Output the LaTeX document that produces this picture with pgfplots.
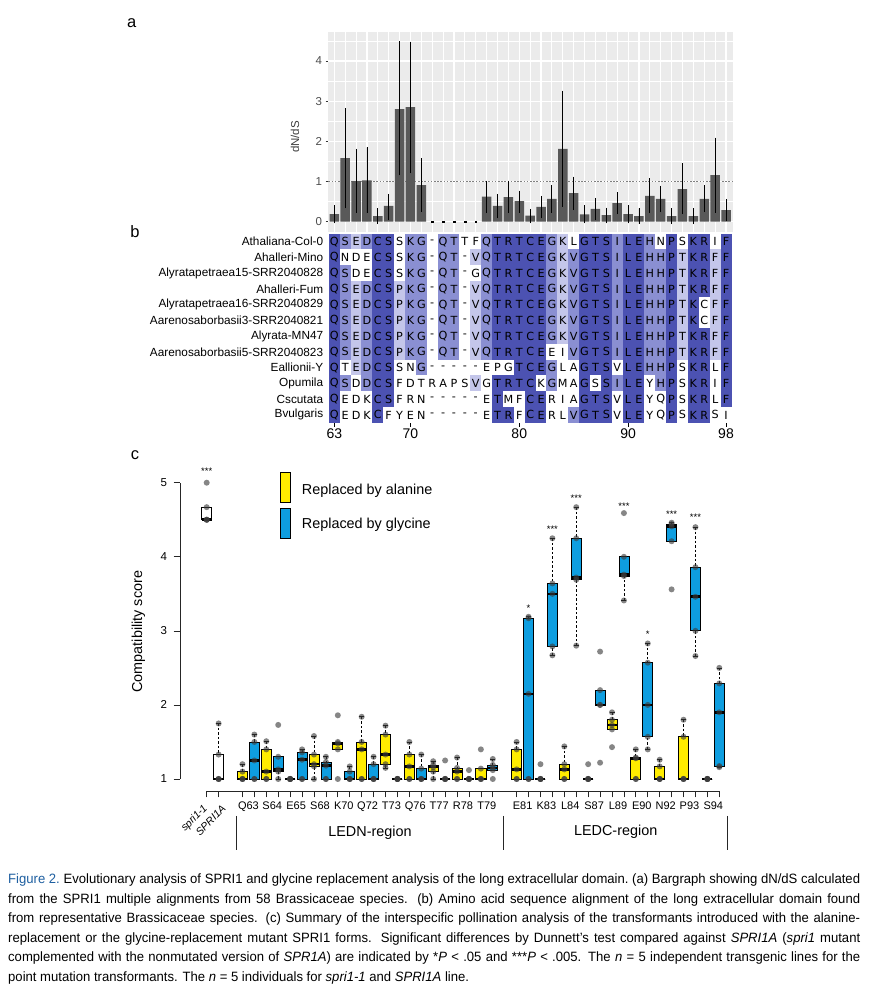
\documentclass[border=0pt]{standalone}
\usepackage{fontspec}
\setmainfont{Liberation Sans}
\newfontfamily\alnfont{DejaVu Sans}
\newfontfamily\capfont[FakeStretch=0.97]{Liberation Sans}
\usepackage{pgfplots}
\pgfplotsset{compat=1.18}
\usepgfplotslibrary{statistics}

\definecolor{ggbg}{HTML}{EBEBEB}
\definecolor{ggbar}{HTML}{595959}
\definecolor{ggtext}{HTML}{4D4D4D}
\definecolor{ggtick}{HTML}{333333}
\definecolor{alnD}{RGB}{76,82,178}
\definecolor{alnM}{RGB}{138,143,210}
\definecolor{alnL}{RGB}{196,198,234}
\definecolor{boxY}{RGB}{255,236,0}
\definecolor{boxB}{RGB}{14,158,224}
\definecolor{ptgray}{RGB}{60,60,60}
\definecolor{capblue}{RGB}{30,95,160}

\pgfdeclareplotmark{alncell}{\pgfpathrectangle{\pgfqpoint{-5.5pt}{-7.95pt}}{\pgfqpoint{11pt}{15.9pt}}\pgfusepathqfill}
\pgfdeclareplotmark{nomark}{}
\pgfdeclareplotmark{dot}{\pgfpathcircle{\pgfpointorigin}{\pgfplotmarksize}\pgfusepathqfill}

\pgfplotsset{
  /pgf/number format/assume math mode=true,
  boxplot/draw/lower whisker/.code={
    \draw[dash pattern=on 2.5pt off 2pt, line width=0.75pt]
      (boxplot cs:\pgfplotsboxplotvalue{lower whisker}) --
      (boxplot cs:\pgfplotsboxplotvalue{lower quartile});
    \draw[solid, line width=0.75pt]
      (boxplot whisker cs:\pgfplotsboxplotvalue{lower whisker},0) --
      (boxplot whisker cs:\pgfplotsboxplotvalue{lower whisker},1);
  },
  boxplot/draw/upper whisker/.code={
    \draw[dash pattern=on 2.5pt off 2pt, line width=0.75pt]
      (boxplot cs:\pgfplotsboxplotvalue{upper whisker}) --
      (boxplot cs:\pgfplotsboxplotvalue{upper quartile});
    \draw[solid, line width=0.75pt]
      (boxplot whisker cs:\pgfplotsboxplotvalue{upper whisker},0) --
      (boxplot whisker cs:\pgfplotsboxplotvalue{upper whisker},1);
  },
}

% one box of panel c: slot, fill, lower whisker, q1, median, q3, upper whisker
\newcommand\bx[7]{%
  \addplot[draw=black, line width=0.75pt, solid,
    boxplot/draw direction=y,
    boxplot/every box/.style={fill=#2},
    boxplot/every median/.style={line width=2.6pt},
    boxplot prepared={draw position=#1, box extend=0.84, whisker extend=0.42,
      lower whisker=#3, lower quartile=#4, median=#5,
      upper quartile=#6, upper whisker=#7}] coordinates {};}

% alignment: row, residues, identity class (d/m/l/w) per column
\ExplSyntaxOn
\tl_new:N \g__aln_cells_tl
\tl_new:N \g__aln_res_tl
\cs_new_protected:Npn \__aln_row:nnn #1#2#3
  {
    \int_step_inline:nn { 37 }
      {
        \tl_gput_right:Nx \g__aln_cells_tl { (##1,#1)[\str_item:nn {#3} {##1}]~ }
        \tl_gput_right:Nx \g__aln_res_tl { (##1,#1)[\str_item:nn {#2} {##1}]~ }
      }
  }
\__aln_row:nnn {1}  {QSEDCSSKG-QTTFQTRTCEGKLGTSILEHNPSKRIF} {dmlmddwmmwmmwwmdddddmlwdddmddmwdwddwd}
\__aln_row:nnn {2}  {QNDECSSKG-QT-VQTRTCEGKVGTSILEHHPTKRFF} {dwwwddwmmwmmwlmdddddmlmdddmddmmdlddld}
\__aln_row:nnn {3}  {QSDECSSKG-QT-GQTRTCEGKVGTSILEHHPTKRFF} {dmwwddwmmwmmwwmdddddmlmdddmddmmdlddld}
\__aln_row:nnn {4}  {QSEDCSPKG-QT-VQTRTCEGKVGTSILEHHPTKRFF} {dmlmddlmmwmmwlmdddddmlmdddmddmmdlddld}
\__aln_row:nnn {5}  {QSEDCSPKG-QT-VQTRTCEGKVGTSILEHHPTKCFF} {dmlmddlmmwmmwlmdddddmlmdddmddmmdldwld}
\__aln_row:nnn {6}  {QSEDCSPKG-QT-VQTRTCEGKVGTSILEHHPTKCFF} {dmlmddlmmwmmwlmdddddmlmdddmddmmdldwld}
\__aln_row:nnn {7}  {QSEDCSPKG-QT-VQTRTCEGKVGTSILEHHPTKRFF} {dmlmddlmmwmmwlmdddddmlmdddmddmmdlddld}
\__aln_row:nnn {8}  {QSEDCSPKG-QT-VQTRTCEEIVGTSILEHHPTKRFF} {dmlmddlmmwmmwlmdddddwwmdddmddmmdlddld}
\__aln_row:nnn {9}  {QTEDCSSNG-----EPGTCEGLAGTSVLEHHPSKRLF} {dwlmddwwmwwwwwwwwdddmwwdddwddmmdwddwd}
\__aln_row:nnn {10} {QSDDCSFDTRAPSVGTRTCKGMAGSSILEYHPSKRIF} {dmwmddwwwwwwwlwddddwmwwdwdmddwmdwddwd}
\__aln_row:nnn {11} {QEDKCSFRN-----ETMFCERIAGTSVLEYQPSKRLF} {dwwwddwwwwwwwwwdwwddwwwdddwddwwdwddwd}
\__aln_row:nnn {12} {QEDKCFYEN-----ETRFCERLVGTSVLEYQPSKRSI} {dwwwdwwwwwwwwwwddwddwwmdddwddwwdwddww}
\cs_gset_eq:NN \alncells \g__aln_cells_tl
\cs_gset_eq:NN \alnres \g__aln_res_tl
\ExplSyntaxOff

\newcommand\plotlist[2]{\addplot[#2] coordinates {#1};}

\begin{document}
\begin{tikzpicture}[x=1pt,y=1pt]
\useasboundingbox (0,0) rectangle (877,993);
\fill[white] (0,0) rectangle (877,993);

% ---------------- panel a: dN/dS bars
\begin{axis}[
  at={(328.3pt,760.9pt)}, anchor=south west,
  scale only axis, width=405pt, height=200.4pt,
  xmin=0.448, xmax=37.67, ymin=-0.26, ymax=4.73,
  axis background/.style={fill=ggbg},
  axis line style={draw=none},
  xtick={1,...,37}, xticklabels={}, xtick style={draw=none},
  ytick={0,1,2,3,4}, minor ytick={0.5,1.5,2.5,3.5,4.5},
  ytick pos=left, tick align=outside, major tick length=2.8pt, minor tick length=0pt,
  ytick style={ggtick, line width=0.5pt},
  grid=both, major grid style={white, line width=1.1pt}, minor grid style={white, line width=0.55pt},
  yticklabel style={font=\fontsize{11.5}{13}\selectfont, text=ggtext},
  clip=false,
]
\addplot[gray, line width=0.6pt, dash pattern=on 1.6pt off 1.6pt] coordinates {(0.448,1) (37.67,1)};
\addplot[ybar, bar width=9.5pt, fill=ggbar, draw=none,
  error bars/.cd, y dir=both, y explicit, error mark=none,
  error bar style={black, line width=0.9pt}]
coordinates {
 (1,0.19) += (0,0.22) -= (0,0.23)
 (2,1.58) += (0,1.24) -= (0,1.25)
 (3,1.01) += (0,0.80) -= (0,0.79)
 (4,1.03) += (0,0.82) -= (0,0.82)
 (5,0.14) += (0,0.19) -= (0,0.20)
 (6,0.39) += (0,0.30) -= (0,0.35)
 (7,2.80) += (0,1.69) -= (0,1.65)
 (8,2.85) += (0,1.63) -= (0,1.65)
 (9,0.91) += (0,0.67) -= (0,0.66)
 (15,0.62) += (0,0.40) -= (0,0.41)
 (16,0.39) += (0,0.30) -= (0,0.31)
 (17,0.61) += (0,0.41) -= (0,0.40)
 (18,0.51) += (0,0.26) -= (0,0.29)
 (19,0.15) += (0,0.17) -= (0,0.19)
 (20,0.37) += (0,0.27) -= (0,0.29)
 (21,0.57) += (0,0.34) -= (0,0.35)
 (22,1.81) += (0,1.45) -= (0,1.44)
 (23,0.71) += (0,0.41) -= (0,0.42)
 (24,0.18) += (0,0.23) -= (0,0.22)
 (25,0.32) += (0,0.27) -= (0,0.28)
 (26,0.16) += (0,0.19) -= (0,0.20)
 (27,0.46) += (0,0.27) -= (0,0.27)
 (28,0.19) += (0,0.22) -= (0,0.23)
 (29,0.14) += (0,0.19) -= (0,0.20)
 (30,0.64) += (0,0.44) -= (0,0.43)
 (31,0.57) += (0,0.33) -= (0,0.33)
 (32,0.14) += (0,0.19) -= (0,0.20)
 (33,0.81) += (0,0.64) -= (0,0.62)
 (34,0.14) += (0,0.19) -= (0,0.20)
 (35,0.57) += (0,0.34) -= (0,0.33)
 (36,1.16) += (0,0.93) -= (0,0.94)
 (37,0.29) += (0,0.27) -= (0,0.27)
};
\addplot[only marks, mark=square*, mark size=0.9pt, black] coordinates {(10,0) (11,0) (12,0) (13,0) (14,0)};
\end{axis}

% ---------------- panel b: alignment
\begin{axis}[
  at={(328.86pt,570.2pt)}, anchor=south west,
  scale only axis, width=402.6pt, height=189pt,
  xmin=0.5, xmax=37.5, ymin=0.5, ymax=12.5, y dir=reverse,
  axis line style={draw=none},
  tick align=outside, major tick length=4pt,
  xtick={1,8,18,28,37}, xticklabels={63,70,80,90,98}, xtick pos=bottom,
  xtick style={black, line width=0.8pt},
  xticklabel style={font=\fontsize{14}{16}\selectfont, inner sep=2pt},
  ytick={1,...,12}, ytick pos=left, ytick style={draw=none},
  yticklabels={Athaliana-Col-0, Ahalleri-Mino, Alyratapetraea15-SRR2040828, Ahalleri-Fum,
    Alyratapetraea16-SRR2040829, Aarenosaborbasii3-SRR2040821, Alyrata-MN47,
    Aarenosaborbasii5-SRR2040823, Eallionii-Y, Opumila, Cscutata, Bvulgaris},
  yticklabel style={font=\fontsize{11.8}{13}\selectfont, inner sep=0pt, xshift=-1.5pt},
  clip=false,
]
\expandafter\plotlist\expandafter{\alncells}{scatter, only marks, mark=alncell,
  point meta=explicit symbolic,
  scatter/classes={d={alnD}, m={alnM}, l={alnL}, w={white}}}
\expandafter\plotlist\expandafter{\alnres}{only marks, mark=nomark,
  point meta=explicit symbolic, nodes near coords, nodes near coords align=center,
  every node near coord/.append style={anchor=center, inner sep=0pt, text=black,
    font=\alnfont\fontsize{11.2}{12}\selectfont}}
\end{axis}

% ---------------- panel c: compatibility boxplots
\begin{axis}[
  at={(180pt,202pt)}, anchor=south west,
  scale only axis, width=551.2pt, height=323.1pt,
  xmin=-2.24, xmax=44, ymin=0.838, ymax=5.2,
  axis line style={draw=none},
  tick align=outside, major tick length=6.5pt, minor tick length=6.5pt,
  tick style={black!85, line width=0.7pt},
  ytick={1,2,3,4,5}, ytick pos=left,
  yticklabel style={font=\fontsize{11.5}{13}\selectfont, xshift=-3pt},
  xtick={3.5,5.5,7.5,9.5,11.5,13.5,15.5,17.5,19.5,21.5,23.5,
         26.5,28.5,30.5,32.5,34.5,36.5,38.5,40.5,42.5},
  xticklabels={Q63,S64,E65,S68,K70,Q72,T73,Q76,T77,R78,T79,
               E81,K83,L84,S87,L89,E90,N92,P93,S94},
  major x tick style={draw=none},
  minor xtick={0,1,3,4,5,6,7,8,9,10,11,12,13,14,15,16,17,18,19,20,21,22,23,24,
         26,27,28,29,30,31,32,33,34,35,36,37,38,39,40,41,42,43},
  minor x tick style={black!85, line width=0.7pt},
  xtick pos=bottom,
  xticklabel style={font=\fontsize{11}{13}\selectfont, yshift=-0.5pt},
  clip=false,
]
\draw[black!85, line width=0.7pt] (axis cs:-2.24,1) -- (axis cs:-2.24,5);
\draw[black!85, line width=0.7pt] (axis cs:0,0.838) -- (axis cs:43,0.838);
\bx{0}{white}{4.5}{4.5}{4.5}{4.67}{4.67}
\bx{1}{white}{1}{1}{1}{1.33}{1.75}
\bx{3}{boxY}{1}{1}{1}{1.1}{1.2}
\bx{4}{boxB}{1}{1}{1.25}{1.5}{1.6}
\bx{5}{boxY}{1}{1}{1.1}{1.4}{1.51}
\bx{6}{boxB}{1}{1.1}{1.13}{1.3}{1.3}
\bx{7}{boxY}{1}{1}{1}{1}{1}
\bx{8}{boxB}{1}{1}{1.26}{1.36}{1.4}
\bx{9}{boxY}{1}{1.17}{1.2}{1.33}{1.58}
\bx{10}{boxB}{1}{1}{1.18}{1.23}{1.3}
\bx{11}{boxY}{1.4}{1.4}{1.48}{1.5}{1.5}
\bx{12}{boxB}{1}{1}{1}{1.1}{1.17}
\bx{13}{boxY}{1}{1}{1.4}{1.5}{1.84}
\bx{14}{boxB}{1}{1}{1}{1.2}{1.3}
\bx{15}{boxY}{1.15}{1.2}{1.33}{1.6}{1.72}
\bx{16}{boxB}{1}{1}{1}{1}{1}
\bx{17}{boxY}{1}{1}{1.17}{1.33}{1.5}
\bx{18}{boxB}{1}{1}{1}{1.14}{1.33}
\bx{19}{boxY}{1}{1.1}{1.16}{1.19}{1.24}
\bx{20}{boxB}{1}{1}{1}{1}{1}
\bx{21}{boxY}{1}{1}{1.1}{1.15}{1.29}
\bx{22}{boxB}{1}{1}{1}{1}{1}
\bx{23}{boxY}{1}{1}{1}{1.14}{1.14}
\bx{24}{boxB}{1.12}{1.12}{1.15}{1.19}{1.27}
\bx{26}{boxY}{1}{1}{1.13}{1.4}{1.5}
\bx{27}{boxB}{1}{1}{2.15}{3.17}{3.19}
\bx{28}{boxY}{1}{1}{1}{1}{1}
\bx{29}{boxB}{2.67}{2.79}{3.5}{3.64}{4.25}
\bx{30}{boxY}{1}{1}{1.13}{1.2}{1.44}
\bx{31}{boxB}{2.8}{3.69}{3.72}{4.25}{4.67}
\bx{32}{boxY}{1}{1}{1}{1}{1}
\bx{33}{boxB}{2}{2}{2}{2.2}{2.2}
\bx{34}{boxY}{1.67}{1.67}{1.73}{1.8}{1.9}
\bx{35}{boxB}{3.41}{3.74}{3.76}{4}{4}
\bx{36}{boxY}{1}{1}{1.28}{1.29}{1.4}
\bx{37}{boxB}{1.4}{1.57}{2}{2.57}{2.83}
\bx{38}{boxY}{1}{1}{1}{1.17}{1.26}
\bx{39}{boxB}{4.21}{4.21}{4.41}{4.44}{4.46}
\bx{40}{boxY}{1}{1}{1}{1.57}{1.8}
\bx{41}{boxB}{2.66}{3}{3.46}{3.86}{4.4}
\bx{42}{boxY}{1}{1}{1}{1}{1}
\bx{43}{boxB}{1.16}{1.175}{1.9}{2.29}{2.5}
% individual lines (n = 5 per group)
\addplot[only marks, mark=dot, mark size=3pt, ptgray, opacity=0.62] coordinates {
 (0,4.5)(0,4.5)(0,4.5)(0,4.67)(0,5.0)
 (1,1)(1,1)(1,1)(1,1.33)(1,1.75)
 (3,1)(3,1)(3,1)(3,1.1)(3,1.2)
 (4,1)(4,1)(4,1.25)(4,1.5)(4,1.6)
 (5,1)(5,1)(5,1.1)(5,1.4)(5,1.51)
 (6,1)(6,1.1)(6,1.13)(6,1.3)(6,1.73)
 (7,1)(7,1)(7,1)(7,1)(7,1)
 (8,1)(8,1)(8,1.26)(8,1.36)(8,1.4)
 (9,1)(9,1.17)(9,1.2)(9,1.33)(9,1.58)
 (10,1)(10,1)(10,1.18)(10,1.23)(10,1.3)
 (11,1)(11,1.4)(11,1.48)(11,1.5)(11,1.86)
 (12,1)(12,1)(12,1)(12,1.1)(12,1.17)
 (13,1)(13,1)(13,1.4)(13,1.5)(13,1.84)
 (14,1)(14,1)(14,1)(14,1.2)(14,1.3)
 (15,1.15)(15,1.2)(15,1.33)(15,1.6)(15,1.72)
 (16,1)(16,1)(16,1)(16,1)(16,1)
 (17,1)(17,1)(17,1.17)(17,1.33)(17,1.5)
 (18,1)(18,1)(18,1)(18,1.14)(18,1.33)
 (19,1)(19,1.1)(19,1.16)(19,1.19)(19,1.24)
 (20,1)(20,1)(20,1)(20,1)(20,1.25)
 (21,1)(21,1)(21,1.1)(21,1.15)(21,1.29)
 (22,1)(22,1)(22,1)(22,1)(22,1.12)
 (23,1)(23,1)(23,1)(23,1.14)(23,1.4)
 (24,1)(24,1.12)(24,1.15)(24,1.19)(24,1.27)
 (26,1)(26,1)(26,1.13)(26,1.4)(26,1.5)
 (27,1)(27,1)(27,2.15)(27,3.17)(27,3.19)
 (28,1)(28,1)(28,1)(28,1)(28,1.2)
 (29,2.67)(29,2.79)(29,3.5)(29,3.64)(29,4.25)
 (30,1)(30,1)(30,1.13)(30,1.2)(30,1.44)
 (31,2.8)(31,3.69)(31,3.72)(31,4.25)(31,4.67)
 (32,1)(32,1)(32,1)(32,1)(32,1.2)
 (33,1.22)(33,2.0)(33,2.0)(33,2.2)(33,2.72)
 (34,1.43)(34,1.67)(34,1.73)(34,1.8)(34,1.9)
 (35,3.41)(35,3.74)(35,3.76)(35,4.0)(35,4.59)
 (36,1)(36,1)(36,1.28)(36,1.29)(36,1.4)
 (37,1.4)(37,1.57)(37,2.0)(37,2.57)(37,2.83)
 (38,1)(38,1)(38,1)(38,1.17)(38,1.26)
 (39,3.56)(39,4.21)(39,4.41)(39,4.44)(39,4.46)
 (40,1)(40,1)(40,1)(40,1.57)(40,1.8)
 (41,2.66)(41,3.0)(41,3.46)(41,3.86)(41,4.4)
 (42,1)(42,1)(42,1)(42,1)(42,1)
 (43,1.16)(43,1.175)(43,1.9)(43,2.29)(43,2.5)
};
\begin{scope}[every node/.style={font=\fontsize{9.5}{10}\selectfont, inner sep=0pt, yshift=-2pt}]
\node at (axis cs:0,5.185) {***};
\node at (axis cs:27,3.339) {*};
\node at (axis cs:29,4.397) {***};
\node at (axis cs:31,4.824) {***};
\node at (axis cs:35,4.708) {***};
\node at (axis cs:37,2.975) {*};
\node at (axis cs:39,4.595) {***};
\node at (axis cs:41,4.564) {***};
\end{scope}
\end{axis}

% ---------------- labels and annotations
\begin{scope}[every node/.style={inner sep=0pt}]
\node[font=\fontsize{16.5}{18}\selectfont] at (131.7,969.7) {a};
\node[font=\fontsize{16.5}{18}\selectfont] at (135,761.3) {b};
\node[font=\fontsize{16.5}{18}\selectfont] at (135,538) {c};
\node[rotate=90, font=\fontsize{11.5}{13}\selectfont, text=ggtext!80!black] at (295,856) {dN/dS};
\node[rotate=90, font=\fontsize{14.4}{16}\selectfont] at (138.3,361.3) {Compatibility score};
\node[rotate=45, anchor=east, font=\itshape\fontsize{10.5}{12}\selectfont] at (206,186) {spri1-1};
\node[rotate=45, anchor=east, font=\itshape\fontsize{10.5}{12}\selectfont] at (224,186) {SPRI1A};
\node[font=\fontsize{14.4}{16}\selectfont] at (370,160.3) {LEDN-region};
\node[font=\fontsize{14.4}{16}\selectfont] at (615.7,161) {LEDC-region};
\draw[fill=boxY, line width=0.8pt] (280,520.3) rectangle (290,490.3);
\draw[fill=boxB, line width=0.8pt] (280,485) rectangle (290,455);
\node[anchor=base west, font=\fontsize{14.4}{16}\selectfont] at (301.7,498.7) {Replaced by alanine};
\node[anchor=base west, font=\fontsize{14.4}{16}\selectfont] at (301.7,464) {Replaced by glycine};
\end{scope}
\draw[black!85, line width=0.8pt] (236.7,177) -- (236.7,143);
\draw[black!85, line width=0.8pt] (503.3,177) -- (503.3,143);
\draw[black!85, line width=0.8pt] (727.7,177) -- (727.7,143);

% ---------------- caption
\node[anchor=north west, inner sep=0pt, align=left,
      font=\capfont\fontsize{13.5}{19.5}\selectfont] at (8,119) {\frenchspacing
\hbox to 852pt{{\color{capblue}Figure 2.} Evolutionary analysis of SPRI1 and glycine replacement analysis of the long extracellular domain. (a) Bargraph showing dN/dS calculated}\\
\hbox to 852pt{from the SPRI1 multiple alignments from 58 Brassicaceae species. (b) Amino acid sequence alignment of the long extracellular domain found}\\
\hbox to 852pt{from representative Brassicaceae species. (c) Summary of the interspecific pollination analysis of the transformants introduced with the alanine-}\\
\hbox to 852pt{replacement or the glycine-replacement mutant SPRI1 forms. Significant differences by Dunnett’s test compared against \textit{SPRI1A} (\textit{spri1} mutant}\\
\hbox to 852pt{complemented with the nonmutated version of \textit{SPR1A}) are indicated by *\textit{P} < .05 and ***\textit{P} < .005. The \textit{n} = 5 independent transgenic lines for the}\\
point mutation transformants. The \textit{n} = 5 individuals for \textit{spri1-1} and \textit{SPRI1A} line.};
\end{tikzpicture}
\end{document}
